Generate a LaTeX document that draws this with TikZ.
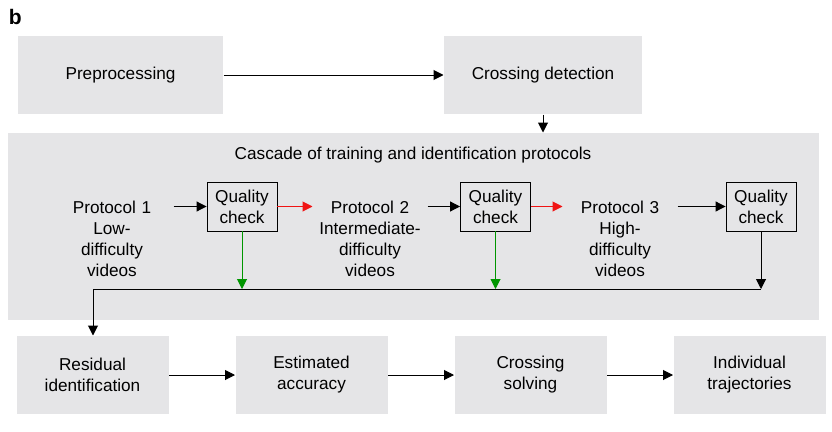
\documentclass[tikz,border=0pt]{standalone}
\usepackage{fontspec}
\setmainfont{Liberation Sans}
\usetikzlibrary{positioning, arrows.meta}

\definecolor{boxgray}{RGB}{229,229,231}
\definecolor{okgreen}{RGB}{0,150,0}
\definecolor{failred}{RGB}{240,20,20}

\tikzset{
	stage/.style={fill=boxgray, align=center, inner sep=0pt, minimum height=78pt},
	protocol/.style={align=center, text width=114pt, inner sep=0pt},
	qcheck/.style={draw, line width=0.9pt, align=center, inner sep=0pt, minimum width=70pt, minimum height=49pt},
}

\begin{document}
\begin{tikzpicture}[x=1pt, y=-1pt, node distance=66pt, >={Triangle[length=10pt, width=10pt]}, line width=1pt,
	font=\fontsize{17.2}{21}\selectfont]

	\useasboundingbox (0,0) rectangle (832,431);

	\node[anchor=north west, inner sep=0pt, font=\fontsize{21}{21}\selectfont\bfseries] (lbl) at (8.5,9) {b};

	% top row
	\node[stage, minimum width=205pt] (prep) at (120.5,75) {Preprocessing\strut};
	\node[stage, minimum width=198pt, right=220pt of prep] (cross) {Crossing detection\strut};

	% cascade panel
	\node[fill=boxgray, minimum width=811pt, minimum height=187pt, inner sep=0pt] (casc) at (413.5,226.5) {};
	\node (title) at (413,155) {Cascade of training and identification protocols};

	\node[protocol] (p1) at (112,239) {Protocol 1\\Low-\\difficulty\\videos};
	\node[qcheck] (qc1) at (242,206.5) {Quality\\check};
	\node[protocol] (p2) at (370,239) {Protocol 2\\Intermediate-\\difficulty\\videos};
	\node[qcheck] (qc2) at (495.5,206.5) {Quality\\check};
	\node[protocol] (p3) at (620,239) {Protocol 3\\High-\\difficulty\\videos};
	\node[qcheck] (qc3) at (761,206.5) {Quality\\check};

	\coordinate (bus) at (93,289);

	% bottom row
	\node[stage, minimum width=152pt] (res) at (92.5,375) {Residual\\identification};
	\node[stage, minimum width=152pt, right=of res] (acc) {Estimated\\accuracy};
	\node[stage, minimum width=152pt, right=of acc] (solve) {Crossing\\solving};
	\node[stage, minimum width=152pt, right=of solve] (traj) {Individual\\trajectories};

	\draw[->] (prep) -- (cross);
	\draw[->] (cross.south) -- (cross.south |- casc.north);

	\draw[->, shorten <=4pt] (p1.east |- qc1.west) -- (qc1.west);
	\draw[->, failred] (qc1.east) -- (p2.west |- qc1.east);
	\draw[->] (p2.east |- qc2.west) -- (qc2.west);
	\draw[->, failred] (qc2.east) -- (p3.west |- qc2.east);
	\draw[->] (p3.east |- qc3.west) -- (qc3.west);

	\draw (bus) -- (qc3.south |- bus);
	\draw[->, okgreen] (qc1.south) -- (qc1.south |- bus);
	\draw[->, okgreen] (qc2.south) -- (qc2.south |- bus);
	\draw[->] (qc3.south) -- (qc3.south |- bus);
	\draw[->] (bus) -- (bus |- res.north);

	\draw[->] (res) -- (acc);
	\draw[->] (acc) -- (solve);
	\draw[->] (solve) -- (traj);

\end{tikzpicture}
\end{document}
